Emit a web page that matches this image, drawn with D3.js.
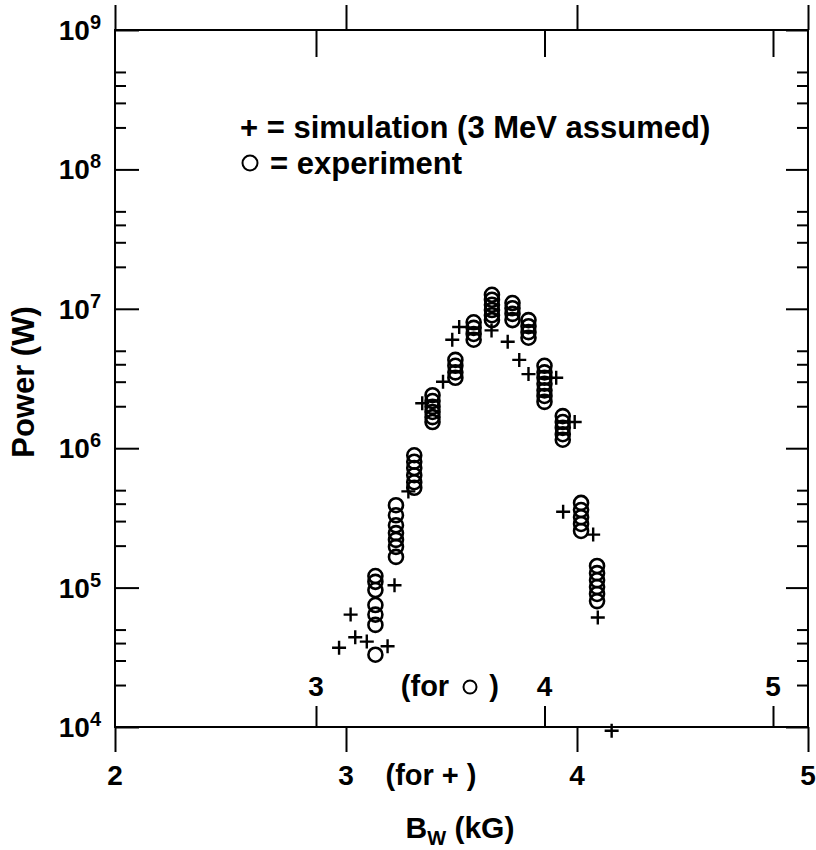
<!DOCTYPE html>
<html>
<head>
<meta charset="utf-8">
<script src="https://cdn.jsdelivr.net/npm/d3@7"></script>
<style>
  body { margin: 0; background: #fff; }
  svg text { font-family: "Liberation Sans", Arial, sans-serif; font-weight: bold; fill: #000; }
</style>
</head>
<body>
<svg id="chart" width="816" height="850"></svg>
<script>
// simulation points (+), B in kG on the "for +" scale, power in W
const simB = [2.97, 3.02, 3.04, 3.09, 3.18, 3.21, 3.27, 3.33, 3.42, 3.46, 3.49,
              3.63, 3.70, 3.75, 3.79, 3.91, 3.99, 3.94, 4.07, 4.09, 4.15];
const simP = [3.7e4, 6.4e4, 4.4e4, 4.1e4, 3.8e4, 1.04e5, 4.9e5, 2.1e6, 3.0e6, 6.0e6, 7.4e6,
              7.0e6, 5.8e6, 4.3e6, 3.4e6, 3.2e6, 1.54e6, 3.5e5, 2.4e5, 6.1e4, 9.4e3];

// experiment points (o), B in kG on the "for o" scale
const expB = [3.26, 3.26, 3.26, 3.26, 3.26, 3.26, 3.26,
              3.35, 3.35, 3.35, 3.35, 3.35, 3.35, 3.35,
              3.43, 3.43, 3.43, 3.43, 3.43, 3.43,
              3.51, 3.51, 3.51, 3.51, 3.51, 3.51,
              3.61, 3.61, 3.61, 3.61,
              3.69, 3.69, 3.69, 3.69,
              3.77, 3.77, 3.77, 3.77, 3.77, 3.77,
              3.86, 3.86, 3.86, 3.86,
              3.93, 3.93, 3.93, 3.93,
              4.00, 4.00, 4.00, 4.00, 4.00, 4.00, 4.00,
              4.08, 4.08, 4.08, 4.08, 4.08,
              4.16, 4.16, 4.16, 4.16, 4.16,
              4.23, 4.23, 4.23, 4.23, 4.23, 4.23];
const expP = [3.3e4, 5.4e4, 6.4e4, 7.5e4, 9.6e4, 1.10e5, 1.21e5,
              3.9e5, 3.3e5, 2.8e5, 2.46e5, 2.2e5, 1.96e5, 1.66e5,
              8.9e5, 8.0e5, 7.2e5, 6.4e5, 5.7e5, 5.2e5,
              2.4e6, 2.18e6, 1.98e6, 1.82e6, 1.67e6, 1.54e6,
              4.3e6, 3.9e6, 3.5e6, 3.2e6,
              8.0e6, 7.3e6, 6.6e6, 6.0e6,
              1.26e7, 1.16e7, 1.07e7, 9.8e6, 9.0e6, 8.3e6,
              1.10e7, 1.01e7, 9.2e6, 8.3e6,
              8.3e6, 7.5e6, 6.8e6, 6.2e6,
              3.9e6, 3.5e6, 3.2e6, 2.9e6, 2.6e6, 2.37e6, 2.15e6,
              1.70e6, 1.54e6, 1.40e6, 1.26e6, 1.15e6,
              4.05e5, 3.6e5, 3.2e5, 2.86e5, 2.55e5,
              1.43e5, 1.27e5, 1.13e5, 1.01e5, 9.0e4, 8.0e4];

// tick values
const simTicks = [2, 3, 4, 5];
const expTicks = [3, 4, 5];
const yMajor = [1e4, 1e5, 1e6, 1e7, 1e8, 1e9];
const yMinor = [];
for (let e = 4; e < 9; e++) [2, 3, 4, 5].forEach(m => yMinor.push(m * Math.pow(10, e)));

const plotLeft = 115, plotRight = 808, plotTop = 30, plotBottom = 727;
const svg = d3.select("#chart");

const xSim = d3.scaleLinear().domain([2, 5]).range([plotLeft, plotRight]);
const xExp = d3.scaleLinear().domain([3, 5]).range([316, 773]);
const y = d3.scaleLog().domain([1e4, 1e9]).range([plotBottom, plotTop]);

function styleAxis(g) {
  g.select(".domain").remove();
  g.selectAll(".tick line").attr("stroke", "#000").attr("stroke-width", 2);
  g.selectAll(".tick text").remove();
}

// frame
svg.append("rect")
  .attr("x", plotLeft).attr("y", plotTop)
  .attr("width", plotRight - plotLeft).attr("height", plotBottom - plotTop)
  .attr("fill", "none").attr("stroke", "#000").attr("stroke-width", 2);

// x axes: "+" scale ticks outward, "o" scale ticks inward
svg.append("g").attr("transform", `translate(0,${plotBottom})`)
  .call(d3.axisBottom(xSim).tickValues(simTicks).tickSize(25)).call(styleAxis);
svg.append("g").attr("transform", `translate(0,${plotTop})`)
  .call(d3.axisTop(xSim).tickValues(simTicks).tickSize(25)).call(styleAxis);
svg.append("g").attr("transform", `translate(0,${plotBottom})`)
  .call(d3.axisTop(xExp).tickValues(expTicks).tickSize(21)).call(styleAxis);
svg.append("g").attr("transform", `translate(0,${plotTop})`)
  .call(d3.axisBottom(xExp).tickValues(expTicks).tickSize(27)).call(styleAxis);

// y axes, ticks inward
svg.append("g").attr("transform", `translate(${plotLeft},0)`)
  .call(d3.axisLeft(y).tickValues(yMajor).tickSize(-24)).call(styleAxis);
svg.append("g").attr("transform", `translate(${plotLeft},0)`)
  .call(d3.axisLeft(y).tickValues(yMinor).tickSize(-11)).call(styleAxis);
svg.append("g").attr("transform", `translate(${plotRight},0)`)
  .call(d3.axisRight(y).tickValues(yMajor).tickSize(-22)).call(styleAxis);
svg.append("g").attr("transform", `translate(${plotRight},0)`)
  .call(d3.axisRight(y).tickValues(yMinor).tickSize(-11)).call(styleAxis);

// y tick labels 10^n
const yl = svg.append("g").selectAll("text").data(yMajor).join("text")
  .attr("x", 101).attr("y", d => y(d) + 10)
  .attr("text-anchor", "end").attr("font-size", 28);
yl.append("tspan").text("10");
yl.append("tspan").attr("dy", -11).attr("font-size", 20).text(d => Math.round(Math.log10(d)));

// x tick labels
svg.append("g").selectAll("text").data(simTicks).join("text")
  .attr("x", d => xSim(d)).attr("y", 785)
  .attr("text-anchor", "middle").attr("font-size", 28).text(d => d);
svg.append("g").selectAll("text").data(expTicks).join("text")
  .attr("x", d => xExp(d)).attr("y", 696)
  .attr("text-anchor", "middle").attr("font-size", 28).text(d => d);

svg.append("text").attr("x", 431).attr("y", 785).attr("text-anchor", "middle")
  .attr("font-size", 29).text("(for + )");
svg.append("text").attr("x", 425).attr("y", 696).attr("text-anchor", "middle")
  .attr("font-size", 29).text("(for");
svg.append("circle").attr("cx", 470).attr("cy", 687).attr("r", 6.5)
  .attr("fill", "none").attr("stroke", "#000").attr("stroke-width", 2);
svg.append("text").attr("x", 494).attr("y", 696).attr("text-anchor", "middle")
  .attr("font-size", 29).text(")");

// axis titles
const xt = svg.append("text").attr("x", 460).attr("y", 838)
  .attr("text-anchor", "middle").attr("font-size", 30);
xt.append("tspan").text("B");
xt.append("tspan").attr("dy", 7).attr("font-size", 20).text("W");
xt.append("tspan").attr("dy", -7).text(" (kG)");

svg.append("text").attr("transform", "translate(34,382) rotate(-90)")
  .attr("text-anchor", "middle").attr("font-size", 31).text("Power (W)");

// legend
svg.append("text").attr("x", 240).attr("y", 138).attr("font-size", 31)
  .text("+ = simulation (3 MeV assumed)");
svg.append("circle").attr("cx", 250).attr("cy", 163).attr("r", 7.5)
  .attr("fill", "none").attr("stroke", "#000").attr("stroke-width", 2);
svg.append("text").attr("x", 270).attr("y", 174).attr("font-size", 31)
  .text("= experiment");

// experiment circles
svg.append("g").selectAll("circle").data(expB).join("circle")
  .attr("cx", d => xExp(d)).attr("cy", (d, i) => y(expP[i])).attr("r", 7)
  .attr("fill", "none").attr("stroke", "#000").attr("stroke-width", 2.6);

// simulation crosses
svg.append("g").selectAll("path").data(simB).join("path")
  .attr("transform", (d, i) => `translate(${xSim(d)},${y(simP[i])})`)
  .attr("d", "M-7,0H7M0,-7V7")
  .attr("stroke", "#000").attr("stroke-width", 2.4).attr("fill", "none");
</script>
</body>
</html>
